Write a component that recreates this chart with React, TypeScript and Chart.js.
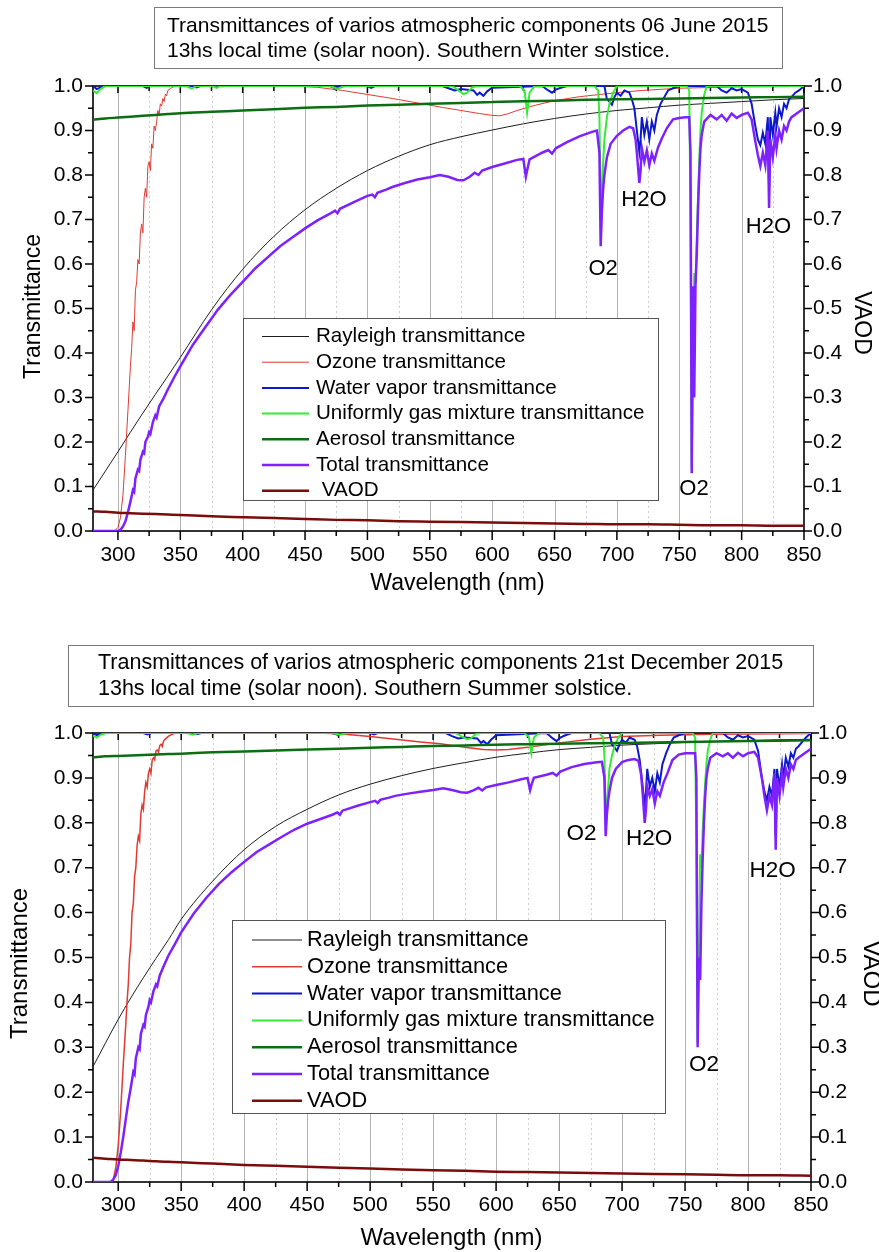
import React, { useEffect, useRef } from "react";
import { Chart, registerables } from "chart.js";

Chart.register(...registerables);

type Pt = [number, number];

const FONT = "'Liberation Sans', Arial, Helvetica, sans-serif";
const PAGE_W = 879;

// ---------------- axes ----------------
const X_MIN = 280;
const X_MAX = 850;
const xTickValues = [300, 350, 400, 450, 500, 550, 600, 650, 700, 750, 800, 850];
const xMinorValues = [325, 375, 425, 475, 525, 575, 625, 675, 725, 775, 825];
const yTickValues = [0, 0.1, 0.2, 0.3, 0.4, 0.5, 0.6, 0.7, 0.8, 0.9, 1.0];
const yMinorValues = [0.05, 0.15, 0.25, 0.35, 0.45, 0.55, 0.65, 0.75, 0.85, 0.95];

const xAxisTitle = "Wavelength (nm)";
const yAxisTitle = "Transmittance";
const y2AxisTitle = "VAOD";

const titleJune = [
  "Transmittances of varios atmospheric components 06 June 2015",
  "13hs local time (solar noon). Southern Winter solstice.",
];
const titleDec = [
  "Transmittances of varios atmospheric components 21st December 2015",
  "13hs local time (solar noon). Southern Summer solstice.",
];

const legendJune = [
  "Rayleigh transmittance",
  "Ozone transmittance",
  "Water vapor transmittance",
  "Uniformly gas mixture transmittance",
  "Aerosol transmittance",
  "Total transmittance",
  " VAOD",
];
const legendDec = [
  "Rayleigh transmittance",
  "Ozone transmittance",
  "Water vapor transmittance",
  "Uniformly gas mixture transmittance",
  "Aerosol transmittance",
  "Total transmittance",
  "VAOD",
];

// band annotations: [wavelength, transmittance, text]
const bandsJune: [number, number, string][] = [
  [688.9, 0.588, "O2"],
  [721.7, 0.744, "H2O"],
  [761.8, 0.094, "O2"],
  [821.5, 0.684, "H2O"],
];
const bandsDec: [number, number, string][] = [
  [667.8, 0.776, "O2"],
  [721.4, 0.765, "H2O"],
  [765.1, 0.26, "O2"],
  [819.5, 0.692, "H2O"],
];

// ---------------- data: June ----------------
const rayleighJune: Pt[] = [
  [280, 0.092], [290, 0.135], [300, 0.178], [310, 0.222], [320, 0.265], [330, 0.307],
  [340, 0.348], [350, 0.39], [375, 0.497], [400, 0.588], [425, 0.662], [450, 0.722],
  [475, 0.77], [500, 0.81], [525, 0.842], [550, 0.868], [575, 0.886], [600, 0.901],
  [625, 0.915], [650, 0.927], [675, 0.937], [700, 0.945], [725, 0.951], [750, 0.957],
  [775, 0.961], [800, 0.965], [825, 0.969], [850, 0.972],
];
const ozoneJune: Pt[] = [
  [280, 0], [296, 0], [298, 0.002], [300, 0.008], [302, 0.03], [304, 0.08], [306, 0.17],
  [308, 0.27], [310, 0.37], [311, 0.41], [312, 0.47], [313, 0.45], [314, 0.54], [315, 0.56],
  [316, 0.61], [317, 0.6], [318, 0.67], [319, 0.69], [320, 0.67], [321, 0.75], [322, 0.77],
  [323, 0.75], [324, 0.82], [325, 0.83], [326, 0.81], [327, 0.87], [328, 0.86], [329, 0.91],
  [330, 0.9], [331, 0.92], [332, 0.945], [333, 0.935], [334, 0.96], [335, 0.955], [336, 0.972],
  [337, 0.965], [338, 0.982], [339, 0.978], [340, 0.99], [342, 0.994], [345, 0.999], [350, 1],
  [440, 1], [460, 0.997], [480, 0.99], [500, 0.981], [520, 0.972], [540, 0.962], [560, 0.952],
  [575, 0.945], [590, 0.938], [600, 0.934], [606, 0.933], [612, 0.937], [620, 0.945],
  [635, 0.957], [650, 0.967], [670, 0.976], [700, 0.985], [720, 0.99], [750, 0.995],
  [780, 0.997], [800, 0.998], [850, 0.999],
];
const waterJune: Pt[] = [
  [280, 1], [283, 0.993], [286, 0.997], [290, 1], [320, 1], [323, 0.996], [326, 1],
  [360, 1], [363, 0.997], [366, 1], [470, 1], [474, 0.995], [478, 1], [500, 1], [503, 0.996],
  [506, 1], [560, 1], [565, 0.995], [570, 0.99], [575, 0.993], [585, 0.99], [588, 0.98],
  [590, 0.985], [593, 0.978], [596, 0.988], [600, 0.996], [640, 1], [645, 0.99], [648, 0.985],
  [651, 0.992], [655, 0.996], [660, 1], [690, 1], [692, 0.97], [694, 0.965], [696, 0.958],
  [698, 0.975], [700, 0.985], [703, 0.978], [706, 0.99], [710, 0.985], [712, 0.97], [714, 0.95],
  [716, 0.9], [718, 0.852], [719, 0.88], [720, 0.93], [722, 0.89], [724, 0.92], [726, 0.88],
  [728, 0.92], [730, 0.9], [732, 0.935], [735, 0.96], [738, 0.975], [741, 0.99], [745, 0.995],
  [750, 1], [780, 1], [784, 0.99], [788, 0.985], [792, 0.995], [796, 0.99], [800, 0.993],
  [805, 0.985], [808, 0.96], [811, 0.91], [813, 0.88], [815, 0.867], [817, 0.895], [819, 0.87],
  [821, 0.93], [822, 0.77], [823, 0.93], [825, 0.89], [827, 0.94], [828, 0.91], [830, 0.95],
  [832, 0.93], [834, 0.96], [836, 0.95], [838, 0.97], [840, 0.975], [843, 0.985], [846, 0.99],
  [850, 1],
];
const gasJune: Pt[] = [
  [280, 0.99], [283, 0.984], [286, 0.993], [290, 1], [355, 1], [359, 0.994], [363, 1],
  [376, 1], [379, 0.996], [382, 1], [470, 1], [476, 0.994], [482, 1], [568, 1], [573, 0.99],
  [577, 0.982], [580, 0.985], [584, 0.997], [588, 1], [622, 1], [626, 0.99], [628, 0.94],
  [630, 0.985], [634, 1], [682, 1], [685, 0.99], [686, 0.93], [687, 0.73], [688, 0.76],
  [689, 0.83], [690, 0.88], [692, 0.93], [694, 0.96], [697, 0.985], [700, 1], [756, 1],
  [758, 0.99], [759, 0.7], [760, 0.14], [761, 0.35], [762, 0.58], [763, 0.56], [764, 0.65],
  [765, 0.75], [766, 0.83], [767, 0.9], [768, 0.94], [770, 0.98], [772, 1], [850, 1],
];
const aerosolJune: Pt[] = [
  [280, 0.924], [290, 0.927], [300, 0.929], [310, 0.931], [320, 0.933], [330, 0.935],
  [340, 0.937], [350, 0.939], [375, 0.942], [400, 0.945], [425, 0.948], [450, 0.951],
  [475, 0.953], [500, 0.956], [525, 0.958], [550, 0.96], [575, 0.962], [600, 0.964],
  [625, 0.966], [650, 0.967], [675, 0.969], [700, 0.97], [725, 0.971], [750, 0.972],
  [775, 0.973], [800, 0.974], [825, 0.975], [850, 0.976],
];
const totalJune: Pt[] = [
  [280, 0], [290, 0], [296, 0], [300, 0], [302, 0.003], [304, 0.01], [306, 0.022], [308, 0.042],
  [310, 0.066], [312, 0.092], [313, 0.088], [314, 0.118], [316, 0.138], [317, 0.135], [318, 0.16],
  [320, 0.178], [321, 0.175], [322, 0.2], [324, 0.212], [325, 0.222], [326, 0.218], [328, 0.245],
  [330, 0.26], [331, 0.255], [333, 0.28], [336, 0.295], [340, 0.318], [345, 0.345], [350, 0.37],
  [360, 0.418], [370, 0.458], [380, 0.497], [390, 0.53], [400, 0.56], [410, 0.59], [420, 0.615],
  [430, 0.64], [440, 0.66], [450, 0.68], [460, 0.698], [470, 0.713], [474, 0.72], [476, 0.714],
  [478, 0.724], [490, 0.74], [500, 0.753], [504, 0.756], [506, 0.75], [508, 0.76], [515, 0.767],
  [520, 0.773], [530, 0.782], [540, 0.79], [550, 0.795], [558, 0.8], [565, 0.796], [572, 0.789],
  [577, 0.788], [582, 0.796], [586, 0.805], [589, 0.8], [592, 0.81], [600, 0.818], [610, 0.826],
  [620, 0.834], [625, 0.836], [627, 0.796], [628, 0.81], [630, 0.835], [640, 0.85], [645, 0.856],
  [648, 0.848], [651, 0.86], [660, 0.874], [670, 0.887], [680, 0.897], [684, 0.9], [686, 0.85],
  [687, 0.64], [688, 0.72], [689, 0.77], [690, 0.8], [692, 0.84], [695, 0.87], [700, 0.888],
  [705, 0.9], [710, 0.908], [713, 0.905], [715, 0.88], [716, 0.85], [718, 0.782], [719, 0.81],
  [720, 0.86], [722, 0.83], [724, 0.855], [726, 0.822], [728, 0.848], [730, 0.832], [733, 0.862],
  [736, 0.882], [740, 0.905], [745, 0.925], [750, 0.928], [755, 0.93], [758, 0.93], [759, 0.85],
  [760, 0.13], [761, 0.55], [762, 0.3], [763, 0.55], [764, 0.62], [765, 0.72], [766, 0.8],
  [767, 0.86], [768, 0.89], [770, 0.92], [775, 0.935], [780, 0.925], [784, 0.935], [788, 0.922],
  [792, 0.938], [796, 0.928], [800, 0.935], [805, 0.94], [808, 0.925], [811, 0.875], [813, 0.845],
  [815, 0.82], [817, 0.85], [819, 0.822], [821, 0.9], [822, 0.726], [823, 0.88], [825, 0.84],
  [827, 0.89], [828, 0.86], [830, 0.9], [832, 0.88], [834, 0.91], [836, 0.9], [838, 0.92],
  [840, 0.93], [845, 0.94], [850, 0.95],
];
const vaodJune: Pt[] = [
  [280, 0.044], [290, 0.043], [300, 0.041], [310, 0.04], [320, 0.039], [330, 0.038],
  [340, 0.037], [350, 0.036], [375, 0.033], [400, 0.031], [425, 0.029], [450, 0.027],
  [475, 0.025], [500, 0.024], [525, 0.022], [550, 0.021], [575, 0.02], [600, 0.019],
  [625, 0.018], [650, 0.017], [675, 0.016], [700, 0.015], [725, 0.015], [750, 0.014],
  [775, 0.013], [800, 0.013], [825, 0.012], [850, 0.012],
];

// ---------------- data: December ----------------
const rayleighDec: Pt[] = [
  [280, 0.257], [290, 0.31], [300, 0.362], [310, 0.41], [320, 0.455], [330, 0.498],
  [340, 0.54], [350, 0.585], [375, 0.67], [400, 0.74], [425, 0.792], [450, 0.83],
  [475, 0.862], [500, 0.886], [525, 0.905], [550, 0.921], [575, 0.934], [600, 0.946],
  [625, 0.955], [650, 0.963], [675, 0.968], [700, 0.973], [725, 0.976], [750, 0.979],
  [775, 0.981], [800, 0.983], [825, 0.985], [850, 0.986],
];
const ozoneDec: Pt[] = [
  [280, 0], [294, 0], [296, 0.005], [298, 0.03], [300, 0.08], [302, 0.16], [304, 0.26],
  [306, 0.35], [307, 0.4], [308, 0.44], [309, 0.5], [310, 0.53], [311, 0.6], [312, 0.62],
  [313, 0.68], [314, 0.7], [315, 0.75], [316, 0.77], [317, 0.76], [318, 0.82], [319, 0.84],
  [320, 0.83], [321, 0.87], [322, 0.89], [323, 0.88], [324, 0.91], [325, 0.92], [326, 0.91],
  [327, 0.94], [328, 0.945], [329, 0.94], [330, 0.96], [331, 0.962], [332, 0.958], [333, 0.972],
  [334, 0.975], [335, 0.97], [336, 0.982], [338, 0.988], [340, 0.993], [342, 0.996], [345, 1],
  [460, 1], [480, 0.997], [500, 0.992], [520, 0.986], [540, 0.98], [556, 0.976], [575, 0.968],
  [590, 0.963], [600, 0.962], [610, 0.963], [625, 0.968], [650, 0.978], [675, 0.986],
  [700, 0.992], [730, 0.995], [770, 0.997], [850, 0.999],
];
const waterDec: Pt[] = [
  [280, 1], [283, 0.995], [286, 0.998], [290, 1], [320, 1], [323, 0.997], [326, 1],
  [360, 1], [363, 0.998], [366, 1], [470, 1], [474, 0.996], [478, 1], [500, 1], [503, 0.997],
  [506, 1], [560, 1], [565, 0.993], [570, 0.988], [575, 0.99], [585, 0.988], [588, 0.978],
  [590, 0.982], [593, 0.975], [596, 0.985], [600, 0.995], [640, 1], [645, 0.988], [648, 0.982],
  [651, 0.99], [655, 0.995], [660, 1], [690, 1], [692, 0.975], [694, 0.968], [696, 0.96],
  [698, 0.975], [700, 0.985], [703, 0.978], [706, 0.99], [710, 0.985], [712, 0.97], [714, 0.94],
  [716, 0.89], [718, 0.836], [719, 0.87], [720, 0.92], [722, 0.88], [724, 0.9], [726, 0.87],
  [728, 0.91], [730, 0.89], [732, 0.93], [735, 0.955], [738, 0.975], [741, 0.99], [745, 0.995],
  [750, 1], [780, 1], [784, 0.99], [788, 0.985], [792, 0.995], [796, 0.99], [800, 0.993],
  [805, 0.985], [808, 0.96], [811, 0.9], [813, 0.87], [815, 0.85], [817, 0.88], [819, 0.86],
  [821, 0.92], [822, 0.77], [823, 0.92], [825, 0.88], [827, 0.93], [828, 0.9], [830, 0.945],
  [832, 0.925], [834, 0.955], [836, 0.945], [838, 0.965], [840, 0.97], [843, 0.98], [846, 0.99],
  [850, 1],
];
const gasDec: Pt[] = [
  [280, 0.994], [283, 0.99], [286, 0.996], [290, 1], [355, 1], [359, 0.996], [363, 1],
  [470, 1], [476, 0.996], [482, 1], [568, 1], [573, 0.992], [577, 0.986], [580, 0.988],
  [584, 0.998], [588, 1], [622, 1], [626, 0.992], [628, 0.955], [630, 0.99], [634, 1],
  [682, 1], [685, 0.99], [686, 0.95], [687, 0.82], [688, 0.84], [689, 0.88], [690, 0.92],
  [692, 0.95], [694, 0.97], [697, 0.99], [700, 1], [756, 1], [758, 0.99], [759, 0.75],
  [760, 0.31], [761, 0.5], [762, 0.73], [763, 0.7], [764, 0.78], [765, 0.84], [766, 0.89],
  [767, 0.93], [768, 0.96], [770, 0.985], [772, 1], [850, 1],
];
const aerosolDec: Pt[] = [
  [280, 0.946], [290, 0.948], [300, 0.949], [310, 0.95], [320, 0.951], [330, 0.952],
  [340, 0.953], [350, 0.954], [375, 0.957], [400, 0.959], [425, 0.961], [450, 0.963],
  [475, 0.965], [500, 0.967], [525, 0.969], [550, 0.971], [575, 0.972], [600, 0.974],
  [625, 0.975], [650, 0.976], [675, 0.977], [700, 0.978], [725, 0.979], [750, 0.98],
  [775, 0.981], [800, 0.982], [825, 0.983], [850, 0.984],
];
const totalDec: Pt[] = [
  [280, 0], [290, 0], [294, 0], [296, 0.005], [298, 0.015], [300, 0.035], [302, 0.065],
  [304, 0.1], [306, 0.14], [308, 0.178], [310, 0.21], [312, 0.245], [313, 0.24], [314, 0.275],
  [316, 0.3], [317, 0.296], [318, 0.33], [320, 0.35], [321, 0.346], [322, 0.372], [324, 0.39],
  [325, 0.405], [326, 0.4], [328, 0.425], [330, 0.44], [331, 0.436], [333, 0.46], [336, 0.48],
  [340, 0.505], [345, 0.53], [350, 0.556], [360, 0.598], [370, 0.633], [380, 0.664],
  [390, 0.69], [400, 0.713], [410, 0.735], [420, 0.752], [430, 0.769], [440, 0.785],
  [450, 0.798], [460, 0.808], [470, 0.818], [474, 0.823], [476, 0.818], [478, 0.827],
  [490, 0.838], [500, 0.846], [504, 0.849], [506, 0.844], [508, 0.851], [515, 0.856],
  [520, 0.86], [530, 0.865], [540, 0.869], [550, 0.873], [558, 0.877], [565, 0.873],
  [572, 0.868], [577, 0.867], [582, 0.872], [586, 0.878], [589, 0.872], [592, 0.879],
  [600, 0.884], [610, 0.89], [620, 0.897], [625, 0.9], [627, 0.873], [628, 0.884], [630, 0.9],
  [640, 0.907], [645, 0.911], [648, 0.905], [651, 0.914], [660, 0.924], [670, 0.931],
  [680, 0.935], [684, 0.936], [686, 0.9], [687, 0.77], [688, 0.82], [689, 0.85], [690, 0.87],
  [692, 0.9], [695, 0.92], [700, 0.935], [705, 0.94], [710, 0.942], [713, 0.938], [715, 0.91],
  [716, 0.88], [718, 0.8], [719, 0.83], [720, 0.88], [722, 0.86], [724, 0.875], [726, 0.843],
  [728, 0.87], [730, 0.86], [733, 0.89], [736, 0.91], [740, 0.94], [745, 0.952], [750, 0.955],
  [755, 0.955], [758, 0.955], [759, 0.9], [760, 0.3], [761, 0.5], [762, 0.45], [763, 0.62],
  [764, 0.72], [765, 0.8], [766, 0.86], [767, 0.9], [768, 0.92], [770, 0.945], [775, 0.955],
  [780, 0.948], [784, 0.955], [788, 0.945], [792, 0.956], [796, 0.948], [800, 0.955],
  [805, 0.958], [808, 0.945], [811, 0.9], [813, 0.86], [815, 0.828], [817, 0.86], [819, 0.84],
  [821, 0.91], [822, 0.74], [823, 0.9], [825, 0.86], [827, 0.91], [828, 0.88], [830, 0.92],
  [832, 0.9], [834, 0.93], [836, 0.92], [838, 0.94], [840, 0.945], [845, 0.955], [850, 0.965],
];
const vaodDec: Pt[] = [
  [280, 0.054], [290, 0.052], [300, 0.05], [310, 0.049], [320, 0.048], [330, 0.046],
  [340, 0.045], [350, 0.044], [375, 0.041], [400, 0.038], [425, 0.036], [450, 0.034],
  [475, 0.032], [500, 0.03], [525, 0.028], [550, 0.026], [575, 0.025], [600, 0.023],
  [625, 0.022], [650, 0.021], [675, 0.02], [700, 0.019], [725, 0.018], [750, 0.017],
  [775, 0.016], [800, 0.015], [825, 0.015], [850, 0.014],
];

// ---------------- styles ----------------
const seriesStyles = [
  { color: "#1e1e1e", width: 1, axis: "y", smooth: true },
  { color: "#e23a32", width: 1, axis: "y", smooth: false },
  { color: "#0c18cc", width: 2, axis: "y", smooth: false },
  { color: "#36ea36", width: 2, axis: "y", smooth: false },
  { color: "#0c6e12", width: 2.5, axis: "y", smooth: true },
  { color: "#7d22ff", width: 2.5, axis: "y", smooth: false },
  { color: "#7a0c0c", width: 2.5, axis: "y2", smooth: true },
];

const panels = [
  {
    key: "june",
    top: 0,
    height: 620,
    area: { left: 93, right: 804, top: 86, bottom: 531 },
    series: [rayleighJune, ozoneJune, waterJune, gasJune, aerosolJune, totalJune, vaodJune],
    ozoneWidth: 1,
    legendLabels: legendJune,
    bands: bandsJune,
    title: titleJune,
    titleBox: { x: 154.5, y: 7.5, w: 628, h: 61 },
    titleFont: 21,
    titleX: 167,
    titleBaselines: [31.7, 56.7],
    tickFont: 21,
    xTickPad: 12,
    yTickPad: 10,
    y2TickPad: 9,
    axisFont: 23,
    xTitle: { x: 457.5, y: 589.8 },
    yTitle: { x: 33.5, y: 306.5 },
    y2Title: { x: 861.5, y: 323 },
    legend: { x: 243.5, y: 318.5, w: 415, h: 182, row0: 336.5, gap: 25.7, s1: 262, s2: 309, tx: 316, font: 20.6 },
    bandFont: 22,
  },
  {
    key: "dec",
    top: 620,
    height: 632,
    area: { left: 93, right: 811, top: 113, bottom: 562 },
    series: [rayleighDec, ozoneDec, waterDec, gasDec, aerosolDec, totalDec, vaodDec],
    ozoneWidth: 1.5,
    legendLabels: legendDec,
    bands: bandsDec,
    title: titleDec,
    titleBox: { x: 68.5, y: 25.5, w: 745, h: 61 },
    titleFont: 21.5,
    titleX: 98,
    titleBaselines: [48.5, 74.5],
    tickFont: 21,
    xTickPad: 11,
    yTickPad: 10,
    y2TickPad: 7,
    axisFont: 24,
    xTitle: { x: 451.5, y: 625 },
    yTitle: { x: 20.6, y: 343.5 },
    y2Title: { x: 871, y: 353.5 },
    legend: { x: 232.5, y: 300.5, w: 433, h: 193, row0: 320, gap: 26.8, s1: 252, s2: 302, tx: 307, font: 21.8 },
    bandFont: 22.5,
  },
];

function makeDecor(p: any) {
  return {
    id: "decor_" + p.key,
    beforeDatasetsDraw(chart: any) {
      const { ctx, chartArea: a } = chart;
      const sx = chart.scales.x;
      const sy = chart.scales.y;
      ctx.save();
      // minor dotted grid
      ctx.lineWidth = 1;
      ctx.strokeStyle = "#cdcdcd";
      ctx.setLineDash([2, 3]);
      ctx.beginPath();
      for (const v of xMinorValues) {
        const px = Math.round(sx.getPixelForValue(v)) + 0.5;
        ctx.moveTo(px, a.top);
        ctx.lineTo(px, a.bottom);
      }
      ctx.stroke();
      ctx.setLineDash([]);
      // major grid
      ctx.strokeStyle = "#b3b3b3";
      ctx.beginPath();
      for (const v of xTickValues) {
        if (v >= X_MAX) continue;
        const px = Math.round(sx.getPixelForValue(v)) + 0.5;
        ctx.moveTo(px, a.top);
        ctx.lineTo(px, a.bottom);
      }
      ctx.stroke();
      // ticks
      ctx.strokeStyle = "#000";
      ctx.lineWidth = 1.5;
      ctx.beginPath();
      for (const v of xTickValues) {
        const px = sx.getPixelForValue(v);
        ctx.moveTo(px, a.bottom);
        ctx.lineTo(px, a.bottom + 9);
        ctx.moveTo(px, a.top);
        ctx.lineTo(px, a.top + 7);
      }
      for (const v of xMinorValues) {
        const px = sx.getPixelForValue(v);
        ctx.moveTo(px, a.bottom);
        ctx.lineTo(px, a.bottom + 5);
        ctx.moveTo(px, a.top);
        ctx.lineTo(px, a.top + 5);
      }
      for (const v of yTickValues) {
        const py = sy.getPixelForValue(v);
        ctx.moveTo(a.left - 8, py);
        ctx.lineTo(a.left, py);
        ctx.moveTo(a.right, py);
        ctx.lineTo(a.right + 8, py);
      }
      for (const v of yMinorValues) {
        const py = sy.getPixelForValue(v);
        ctx.moveTo(a.left - 5, py);
        ctx.lineTo(a.left, py);
        ctx.moveTo(a.right, py);
        ctx.lineTo(a.right + 5, py);
      }
      ctx.stroke();
      ctx.lineWidth = 1.6;
      ctx.strokeRect(a.left, a.top, a.right - a.left, a.bottom - a.top);
      ctx.restore();
    },
    afterDatasetsDraw(chart: any) {
      const { ctx } = chart;
      const sx = chart.scales.x;
      const sy = chart.scales.y;
      ctx.save();
      // band labels
      ctx.fillStyle = "#000";
      ctx.font = `${p.bandFont}px ${FONT}`;
      ctx.textAlign = "center";
      ctx.textBaseline = "middle";
      for (const [wl, t, txt] of p.bands) {
        ctx.fillText(txt, sx.getPixelForValue(wl), sy.getPixelForValue(t));
      }
      // legend
      const L = p.legend;
      ctx.fillStyle = "#fff";
      ctx.fillRect(L.x, L.y, L.w, L.h);
      ctx.strokeStyle = "#555";
      ctx.lineWidth = 1;
      ctx.strokeRect(L.x, L.y, L.w, L.h);
      ctx.font = `${L.font}px ${FONT}`;
      ctx.textAlign = "left";
      ctx.textBaseline = "middle";
      chart.data.datasets.forEach((ds: any, i: number) => {
        const y = L.row0 + i * L.gap;
        ctx.strokeStyle = ds.borderColor;
        ctx.lineWidth = ds.borderWidth;
        ctx.beginPath();
        ctx.moveTo(L.s1, y);
        ctx.lineTo(L.s2, y);
        ctx.stroke();
        ctx.fillStyle = "#000";
        ctx.fillText(ds.label, L.tx, y);
      });
      ctx.restore();
    },
    afterDraw(chart: any) {
      const { ctx } = chart;
      ctx.save();
      // title box
      const B = p.titleBox;
      ctx.fillStyle = "#fff";
      ctx.fillRect(B.x, B.y, B.w, B.h);
      ctx.strokeStyle = "#7a7a7a";
      ctx.lineWidth = 1;
      ctx.strokeRect(B.x, B.y, B.w, B.h);
      ctx.fillStyle = "#000";
      ctx.font = `${p.titleFont}px ${FONT}`;
      ctx.textAlign = "left";
      ctx.textBaseline = "alphabetic";
      p.title.forEach((line: string, i: number) => {
        ctx.fillText(line, p.titleX, p.titleBaselines[i]);
      });
      // axis titles
      ctx.font = `${p.axisFont}px ${FONT}`;
      ctx.textAlign = "center";
      ctx.textBaseline = "alphabetic";
      ctx.fillText(xAxisTitle, p.xTitle.x, p.xTitle.y);
      ctx.textBaseline = "middle";
      ctx.save();
      ctx.translate(p.yTitle.x, p.yTitle.y);
      ctx.rotate(-Math.PI / 2);
      ctx.fillText(yAxisTitle, 0, 0);
      ctx.restore();
      ctx.save();
      ctx.translate(p.y2Title.x, p.y2Title.y);
      ctx.rotate(Math.PI / 2);
      ctx.fillText(y2AxisTitle, 0, 0);
      ctx.restore();
      ctx.restore();
    },
  };
}

function buildConfig(p: any) {
  const datasets = p.series.map((pts: Pt[], i: number) => {
    const st = seriesStyles[i];
    return {
      label: p.legendLabels[i],
      data: pts.map(([x, y]) => ({ x, y })),
      borderColor: st.color,
      backgroundColor: st.color,
      borderWidth: i === 1 ? p.ozoneWidth : st.width,
      pointRadius: 0,
      tension: 0,
      cubicInterpolationMode: st.smooth ? "monotone" : "default",
      fill: false,
      yAxisID: st.axis,
      order: 10 - i,
    };
  });
  const tickFont = { family: FONT, size: p.tickFont };
  const yTicks = (s: any) => {
    s.ticks = yTickValues.map((v) => ({ value: v }));
  };
  return {
    type: "line",
    data: { datasets },
    plugins: [makeDecor(p)],
    options: {
      responsive: false,
      maintainAspectRatio: false,
      animation: false,
      devicePixelRatio: 1,
      events: [],
      layout: { padding: { top: p.area.top, left: 0, right: 0, bottom: 0 } },
      plugins: { legend: { display: false }, tooltip: { enabled: false }, title: { display: false } },
      scales: {
        x: {
          type: "linear",
          position: "bottom",
          min: X_MIN,
          max: X_MAX,
          grid: { display: false, drawTicks: false },
          border: { display: false },
          afterBuildTicks: (s: any) => {
            s.ticks = xTickValues.map((v) => ({ value: v }));
          },
          afterFit: (s: any) => {
            s.height = p.height - p.area.bottom;
          },
          ticks: {
            autoSkip: false,
            maxRotation: 0,
            padding: p.xTickPad,
            color: "#000",
            font: tickFont,
            callback: (v: any) => String(v),
          },
        },
        y: {
          type: "linear",
          position: "left",
          min: 0,
          max: 1,
          grid: { display: false, drawTicks: false },
          border: { display: false },
          afterBuildTicks: yTicks,
          afterFit: (s: any) => {
            s.width = p.area.left;
          },
          ticks: {
            padding: p.yTickPad,
            color: "#000",
            font: tickFont,
            callback: (v: any) => Number(v).toFixed(1),
          },
        },
        y2: {
          type: "linear",
          position: "right",
          min: 0,
          max: 1,
          grid: { display: false, drawTicks: false },
          border: { display: false },
          afterBuildTicks: yTicks,
          afterFit: (s: any) => {
            s.width = PAGE_W - p.area.right;
          },
          ticks: {
            padding: p.y2TickPad,
            color: "#000",
            font: tickFont,
            callback: (v: any) => Number(v).toFixed(1),
          },
        },
      },
    },
  };
}

function Panel({ p }: { p: any }) {
  const ref = useRef<HTMLCanvasElement | null>(null);
  useEffect(() => {
    if (!ref.current) return;
    const chart = new Chart(ref.current, buildConfig(p) as any);
    return () => chart.destroy();
  }, [p]);
  return (
    <canvas
      ref={ref}
      width={PAGE_W}
      height={p.height}
      style={{ position: "absolute", left: 0, top: p.top, width: PAGE_W, height: p.height, display: "block" }}
    />
  );
}

export default function App() {
  return (
    <div style={{ position: "absolute", left: 0, top: 0, width: PAGE_W, height: 1252, background: "#fff", overflow: "hidden" }}>
      {panels.map((p) => (
        <Panel key={p.key} p={p} />
      ))}
    </div>
  );
}
